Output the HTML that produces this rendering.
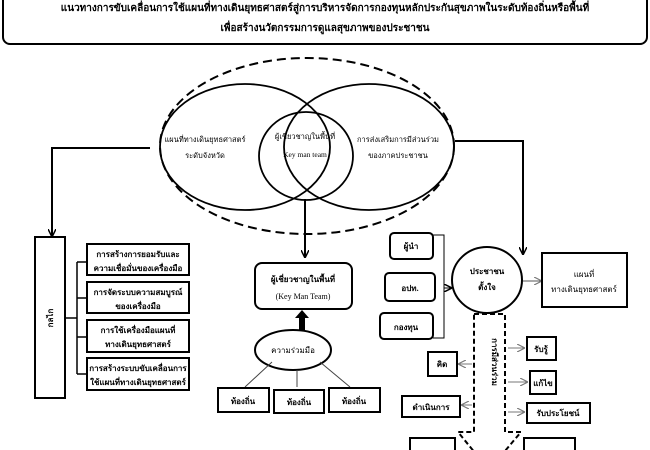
<!DOCTYPE html>
<html><head><meta charset="utf-8"><style>
html,body{margin:0;padding:0;background:#fff;width:650px;height:450px;overflow:hidden}
svg text{font-family:"Liberation Serif","DejaVu Sans",serif;fill:#000}
</style></head><body>
<svg width="650" height="450" viewBox="0 0 650 450" xmlns="http://www.w3.org/2000/svg">
<defs>
<marker id="a" markerWidth="8" markerHeight="8" refX="7" refY="4" orient="auto" markerUnits="userSpaceOnUse"><path d="M0,0 L8,4 L0,8" fill="none" stroke="#000" stroke-width="1.5"/></marker>
<marker id="g" markerWidth="8" markerHeight="8" refX="7" refY="4" orient="auto" markerUnits="userSpaceOnUse"><path d="M0,0 L8,4 L0,8" fill="none" stroke="#777" stroke-width="1.2"/></marker>
</defs>
<!-- title -->
<rect x="3" y="-10" width="644" height="54" rx="7" fill="#fff" stroke="#000" stroke-width="2"/>
<text x="325" y="11" font-size="10" font-weight="bold" text-anchor="middle">แนวทางการขับเคลื่อนการใช้แผนที่ทางเดินยุทธศาสตร์สู่การบริหารจัดการกองทุนหลักประกันสุขภาพในระดับท้องถิ่นหรือพื้นที่</text>
<text x="325" y="31" font-size="10" font-weight="bold" text-anchor="middle">เพื่อสร้างนวัตกรรมการดูแลสุขภาพของประชาชน</text>
<!-- venn -->
<ellipse cx="307" cy="146" rx="147" ry="88" fill="none" stroke="#000" stroke-width="2" stroke-dasharray="9,5"/>
<ellipse cx="245" cy="147" rx="85" ry="63" fill="none" stroke="#000" stroke-width="1.8"/>
<ellipse cx="369" cy="147" rx="85" ry="63" fill="none" stroke="#000" stroke-width="1.8"/>
<ellipse cx="306" cy="156" rx="47" ry="44" fill="none" stroke="#000" stroke-width="1.8"/>
<g font-size="7.5" text-anchor="middle">
<text x="205" y="142">แผนที่ทางเดินยุทธศาสตร์</text><text x="205" y="158">ระดับจังหวัด</text>
<text x="305" y="139">ผู้เชี่ยวชาญในพื้นที่</text><text x="305" y="157">Key man team</text>
<text x="398" y="142">การส่งเสริมการมีส่วนร่วม</text><text x="398" y="158">ของภาคประชาชน</text>
</g>
<!-- connectors -->
<path d="M150,148 H52 V236" fill="none" stroke="#000" stroke-width="2" marker-end="url(#a)"/>
<path d="M305,199 V257" fill="none" stroke="#000" stroke-width="2" marker-end="url(#a)"/>
<path d="M455,141 H523 V254" fill="none" stroke="#000" stroke-width="2" marker-end="url(#a)"/>
<!-- left -->
<rect x="35" y="237" width="30" height="161" fill="#fff" stroke="#000" stroke-width="2"/>
<text transform="translate(53,318) rotate(-90)" font-size="8" font-weight="bold" text-anchor="middle">กลไก</text>
<path d="M65,318 H77 M77,262 V374 M77,262 H87 M77,298 H87 M77,337 H87 M77,374 H87" stroke="#000" stroke-width="1.5" fill="none"/>
<g font-size="8" font-weight="bold" text-anchor="middle">
<rect x="87" y="244" width="102" height="31" fill="#fff" stroke="#000" stroke-width="2"/>
<text x="138" y="257">การสร้างการยอมรับและ</text><text x="138" y="271">ความเชื่อมั่นของเครื่องมือ</text>
<rect x="87" y="282" width="102" height="31" fill="#fff" stroke="#000" stroke-width="2"/>
<text x="138" y="295">การจัดระบบความสมบูรณ์</text><text x="138" y="309">ของเครื่องมือ</text>
<rect x="87" y="320" width="102" height="32" fill="#fff" stroke="#000" stroke-width="2"/>
<text x="138" y="333">การใช้เครื่องมือแผนที่</text><text x="138" y="347">ทางเดินยุทธศาสตร์</text>
<rect x="87" y="358" width="102" height="32" fill="#fff" stroke="#000" stroke-width="2"/>
<text x="138" y="371">การสร้างระบบขับเคลื่อนการ</text><text x="138" y="385">ใช้แผนที่ทางเดินยุทธศาสตร์</text>
</g>
<!-- center -->
<rect x="255" y="263" width="97" height="46" rx="7" fill="#fff" stroke="#000" stroke-width="2"/>
<text x="303" y="282" font-size="8" font-weight="bold" text-anchor="middle">ผู้เชี่ยวชาญในพื้นที่</text>
<text x="303" y="299" font-size="8" text-anchor="middle">(Key Man Team)</text>
<path d="M299,331 V318 H295 L302,310 L309,318 H305 V331 Z" fill="#000"/>
<ellipse cx="293" cy="350" rx="38" ry="20" fill="#fff" stroke="#000" stroke-width="2"/>
<text x="293" y="353" font-size="8" text-anchor="middle">ความร่วมมือ</text>
<path d="M245,387 L272,362 M297,387 V370 M350,387 L320,362" stroke="#444" stroke-width="1" fill="none"/>
<g font-size="8" font-weight="bold" text-anchor="middle">
<rect x="218" y="388" width="51" height="24" fill="#fff" stroke="#000" stroke-width="2"/><text x="243" y="404">ท้องถิ่น</text>
<rect x="274" y="390" width="50" height="23" fill="#fff" stroke="#000" stroke-width="2"/><text x="299" y="405">ท้องถิ่น</text>
<rect x="329" y="388" width="51" height="24" fill="#fff" stroke="#000" stroke-width="2"/><text x="354" y="404">ท้องถิ่น</text>
</g>
<!-- right -->
<g font-size="8" font-weight="bold" text-anchor="middle">
<rect x="390" y="233" width="43" height="26" rx="4" fill="#fff" stroke="#000" stroke-width="2"/><text x="411" y="249">ผู้นำ</text>
<rect x="385" y="273" width="50" height="28" rx="4" fill="#fff" stroke="#000" stroke-width="2"/><text x="410" y="291">อปท.</text>
<rect x="380" y="313" width="53" height="26" rx="4" fill="#fff" stroke="#000" stroke-width="2"/><text x="406" y="330">กองทุน</text>
</g>
<path d="M433,235 H444 V338 H433" stroke="#000" stroke-width="1" fill="none"/>
<path d="M444,288 H451" stroke="#000" stroke-width="1" marker-end="url(#a)"/>
<ellipse cx="487" cy="280" rx="35" ry="33" fill="#fff" stroke="#000" stroke-width="2"/>
<text x="487" y="274" font-size="8" font-weight="bold" text-anchor="middle">ประชาชน</text>
<text x="487" y="290" font-size="8" font-weight="bold" text-anchor="middle">ตั้งใจ</text>
<path d="M523,281 H541" stroke="#555" stroke-width="1" marker-end="url(#g)"/>
<rect x="542" y="253" width="85" height="54" fill="#fff" stroke="#000" stroke-width="2"/>
<text x="584" y="277" font-size="8" text-anchor="middle">แผนที่</text>
<text x="584" y="292" font-size="8" text-anchor="middle">ทางเดินยุทธศาสตร์</text>
<!-- dashed arrow -->
<path d="M474,314 H505 V432 L521,432 L489,470 L458,432 L474,432 Z" fill="none" stroke="#000" stroke-width="2" stroke-dasharray="5,3"/>
<text transform="translate(492,362) rotate(90)" font-size="8" font-weight="bold" text-anchor="middle">การมีส่วนร่วม</text>
<g stroke="#777" stroke-width="1" fill="none">
<path d="M508,348 H524" marker-end="url(#g)"/>
<path d="M508,382 H527" marker-end="url(#g)"/>
<path d="M508,412 H524" marker-end="url(#g)"/>
<path d="M472,364 H459" marker-end="url(#g)"/>
<path d="M472,405 H462" marker-end="url(#g)"/>
</g>
<g font-size="8" font-weight="bold" text-anchor="middle">
<rect x="527" y="337" width="29" height="23" fill="#fff" stroke="#000" stroke-width="2"/><text x="541" y="352">รับรู้</text>
<rect x="428" y="352" width="29" height="24" fill="#fff" stroke="#000" stroke-width="2"/><text x="442" y="367">คิด</text>
<rect x="530" y="371" width="26" height="23" fill="#fff" stroke="#000" stroke-width="2"/><text x="543" y="386">แก้ไข</text>
<rect x="402" y="396" width="58" height="21" fill="#fff" stroke="#000" stroke-width="2"/><text x="431" y="410">ดำเนินการ</text>
<rect x="527" y="403" width="63" height="20" fill="#fff" stroke="#000" stroke-width="2"/><text x="558" y="416">รับประโยชน์</text>
<rect x="410" y="438" width="45" height="20" fill="#fff" stroke="#000" stroke-width="2"/>
<rect x="524" y="438" width="51" height="20" fill="#fff" stroke="#000" stroke-width="2"/>
</g>
</svg>
</body></html>
